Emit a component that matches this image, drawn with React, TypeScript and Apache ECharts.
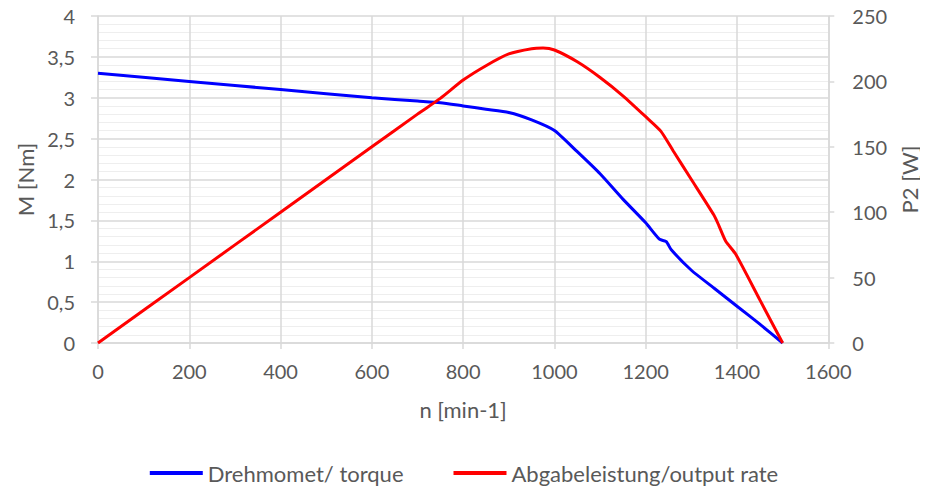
import React, { useEffect, useRef } from "react";
import * as echarts from "echarts";

const torqueSpeed = [0, 200, 400, 600, 700, 750, 800, 850, 900, 950, 1000, 1050, 1100, 1150, 1200, 1230, 1245, 1256, 1300, 1350, 1400, 1450, 1500];
const torqueValues = [3.3, 3.2, 3.1, 3.0, 2.96, 2.94, 2.9, 2.86, 2.82, 2.73, 2.6, 2.34, 2.07, 1.76, 1.47, 1.27, 1.24, 1.14, 0.89, 0.67, 0.45, 0.23, 0];

const powerSpeed = [0, 200, 400, 600, 700, 750, 800, 850, 900, 950, 975, 1000, 1050, 1100, 1150, 1200, 1233, 1260, 1300, 1349, 1360, 1375, 1397, 1450, 1500];
const powerValues = [0, 50, 100, 150, 175, 187, 201, 212, 221, 225, 225.5, 224, 215, 203, 189, 173, 162, 147, 125, 98, 90, 78, 68, 33, 0];

const xTicks = { min: 0, max: 1600, interval: 200 };
const leftTicks = { min: 0, max: 4, interval: 0.5 };
const rightTicks = { min: 0, max: 250, interval: 50 };

const seriesNames = ["Drehmomet/ torque", "Abgabeleistung/output rate"];
const axisNames = { x: "n [min-1]", left: "M [Nm]", right: "P2 [W]" };

const FONT = "Lato";
const TEXT = "#595959";
const GRID = "#d9d9d9";

export default function App() {
  const ref = useRef<HTMLDivElement>(null);
  useEffect(() => {
    if (!ref.current) return;
    const chart = echarts.init(ref.current, undefined, { renderer: "svg" });
    const torque = torqueSpeed.map((n, i) => [n, torqueValues[i]]);
    const power = powerSpeed.map((n, i) => [n, powerValues[i]]);
    chart.setOption({
      animation: false,
      textStyle: { fontFamily: FONT, color: TEXT },
      grid: { left: 98, right: 97, top: 16, bottom: 154, containLabel: false },
      legend: {
        top: 462,
        left: "center",
        padding: 0,
        icon: "rect",
        itemWidth: 53,
        itemHeight: 4,
        itemGap: 50,
        textStyle: { fontFamily: FONT, fontSize: 22, color: TEXT },
        data: seriesNames,
      },
      xAxis: {
        type: "value",
        min: xTicks.min,
        max: xTicks.max,
        interval: xTicks.interval,
        name: axisNames.x,
        nameLocation: "middle",
        nameGap: 55,
        nameTextStyle: { fontFamily: FONT, fontSize: 22, color: TEXT },
        axisLine: { show: true, lineStyle: { color: GRID, width: 1.5 } },
        axisTick: { show: true, length: 6, lineStyle: { color: GRID, width: 1.5 } },
        axisLabel: {
          fontFamily: FONT,
          fontSize: 20,
          color: TEXT,
          margin: 18,
          formatter: (v: number) => String(v),
        },
        splitLine: { show: true, lineStyle: { color: GRID, width: 1.5 } },
      },
      yAxis: [
        {
          type: "value",
          position: "left",
          min: leftTicks.min,
          max: leftTicks.max,
          interval: leftTicks.interval,
          name: axisNames.left,
          nameLocation: "middle",
          nameRotate: 90,
          nameGap: 54,
          nameTextStyle: { fontFamily: FONT, fontSize: 22, color: TEXT },
          axisLine: { show: true, lineStyle: { color: GRID, width: 1.5 } },
          axisTick: { show: true, length: 7, lineStyle: { color: GRID, width: 1.5 } },
          axisLabel: {
            fontFamily: FONT,
            fontSize: 20,
            color: TEXT,
            margin: 23,
            formatter: (v: number) => String(v).replace(".", ","),
          },
          splitLine: { show: true, lineStyle: { color: GRID, width: 1.5 } },
          minorTick: { show: false, splitNumber: 5 },
          minorSplitLine: { show: true, lineStyle: { color: "#eeeeee", width: 1.2 } },
        },
        {
          type: "value",
          position: "right",
          min: rightTicks.min,
          max: rightTicks.max,
          interval: rightTicks.interval,
          name: axisNames.right,
          nameLocation: "middle",
          nameRotate: 90,
          nameGap: 64,
          nameTextStyle: { fontFamily: FONT, fontSize: 22, color: TEXT },
          axisLine: { show: true, lineStyle: { color: GRID, width: 1.5 } },
          axisTick: { show: true, length: 6, lineStyle: { color: GRID, width: 1.5 } },
          axisLabel: { fontFamily: FONT, fontSize: 20, color: TEXT, margin: 24 },
          splitLine: { show: false },
        },
      ],
      series: [
        {
          name: seriesNames[0],
          type: "line",
          yAxisIndex: 0,
          data: torque,
          showSymbol: false,
          smooth: 0.2,
          lineStyle: { color: "#0000ff", width: 3 },
          itemStyle: { color: "#0000ff" },
        },
        {
          name: seriesNames[1],
          type: "line",
          yAxisIndex: 1,
          data: power,
          showSymbol: false,
          smooth: 0.2,
          lineStyle: { color: "#ff0000", width: 3 },
          itemStyle: { color: "#ff0000" },
        },
      ],
    });
    return () => chart.dispose();
  }, []);
  return <div ref={ref} style={{ margin: -8, width: 928, height: 497 }} />;
}
